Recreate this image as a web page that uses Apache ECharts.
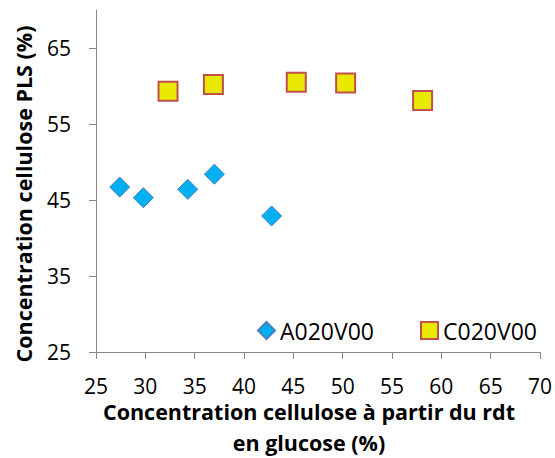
<!DOCTYPE html>
<html><head><meta charset="utf-8">
<script src="https://cdn.jsdelivr.net/npm/echarts@6/dist/echarts.min.js"></script>
<style>html,body{margin:0;padding:0;background:#fff}#c{width:555px;height:458px}
#c text{font-variant-ligatures:none;font-feature-settings:"liga" 0,"clig" 0;}</style>
</head><body><div id="c"></div>
<script>
// Data
const seriesNames = ['A020V00', 'C020V00'];
const a020X = [27.4, 29.8, 34.3, 37.0, 42.8];
const a020Y = [46.7, 45.3, 46.4, 48.4, 42.9];
const c020X = [32.3, 36.9, 45.3, 50.3, 58.1];
const c020Y = [59.3, 60.2, 60.5, 60.4, 58.1];
const yTickValues = [25, 35, 45, 55, 65];
const xTitle = 'Concentration cellulose à partir du rdt\nen glucose (%)';
const yTitle = 'Concentration cellulose PLS (%)';

const FONT = 'Open Sans';
const axisColor = '#868686';

const chart = echarts.init(document.getElementById('c'), null, {renderer: 'svg'});
chart.setOption({
  animation: false,
  backgroundColor: '#fff',
  textStyle: {fontFamily: FONT},
  grid: {left: 96, right: 15, top: 10, bottom: 106, containLabel: false, outerBoundsMode: 'none'},
  legend: {
    left: 252, top: 314,
    itemWidth: 17, itemHeight: 17, itemGap: 46,
    textStyle: {fontFamily: FONT, fontSize: 23, color: '#000'},
    data: seriesNames
  },
  xAxis: {
    type: 'value', min: 25, max: 70, interval: 5,
    axisLine: {show: true, onZero: false, lineStyle: {color: axisColor, width: 1}},
    axisTick: {show: true, length: 7, lineStyle: {color: axisColor}},
    splitLine: {show: false},
    axisLabel: {fontFamily: FONT, fontSize: 21, lineHeight: 19, color: '#000', margin: 24},
    name: xTitle, nameLocation: 'middle', nameGap: 44, nameMoveOverlap: false,
    nameTextStyle: {fontFamily: FONT, fontSize: 21.5, fontWeight: 'bold', color: '#000', lineHeight: 31, padding: [0, 18, 0, 0]}
  },
  yAxis: {
    type: 'value', min: 25, max: 70,
    axisLine: {show: true, onZero: false, lineStyle: {color: axisColor, width: 1}},
    axisTick: {show: true, length: 7, lineStyle: {color: axisColor}, customValues: yTickValues},
    splitLine: {show: false},
    axisLabel: {fontFamily: FONT, fontSize: 21, color: '#000', margin: 25, customValues: yTickValues},
    name: yTitle, nameLocation: 'middle', nameGap: 62, nameMoveOverlap: false,
    nameTextStyle: {fontFamily: FONT, fontSize: 21.5, fontWeight: 'bold', color: '#000', padding: [0, 26, 0, 0]}
  },
  series: [
    {
      name: seriesNames[0], type: 'scatter', symbol: 'diamond', symbolSize: 20,
      itemStyle: {color: '#00B0F0', borderColor: '#4A7EBB', borderWidth: 1, opacity: 1},
      data: a020X.map((x, i) => [x, a020Y[i]])
    },
    {
      name: seriesNames[1], type: 'scatter', symbol: 'rect', symbolSize: 19,
      itemStyle: {color: '#E8E800', borderColor: '#C0504D', borderWidth: 2, opacity: 1},
      data: c020X.map((x, i) => [x, c020Y[i]])
    }
  ]
});
</script></body></html>
